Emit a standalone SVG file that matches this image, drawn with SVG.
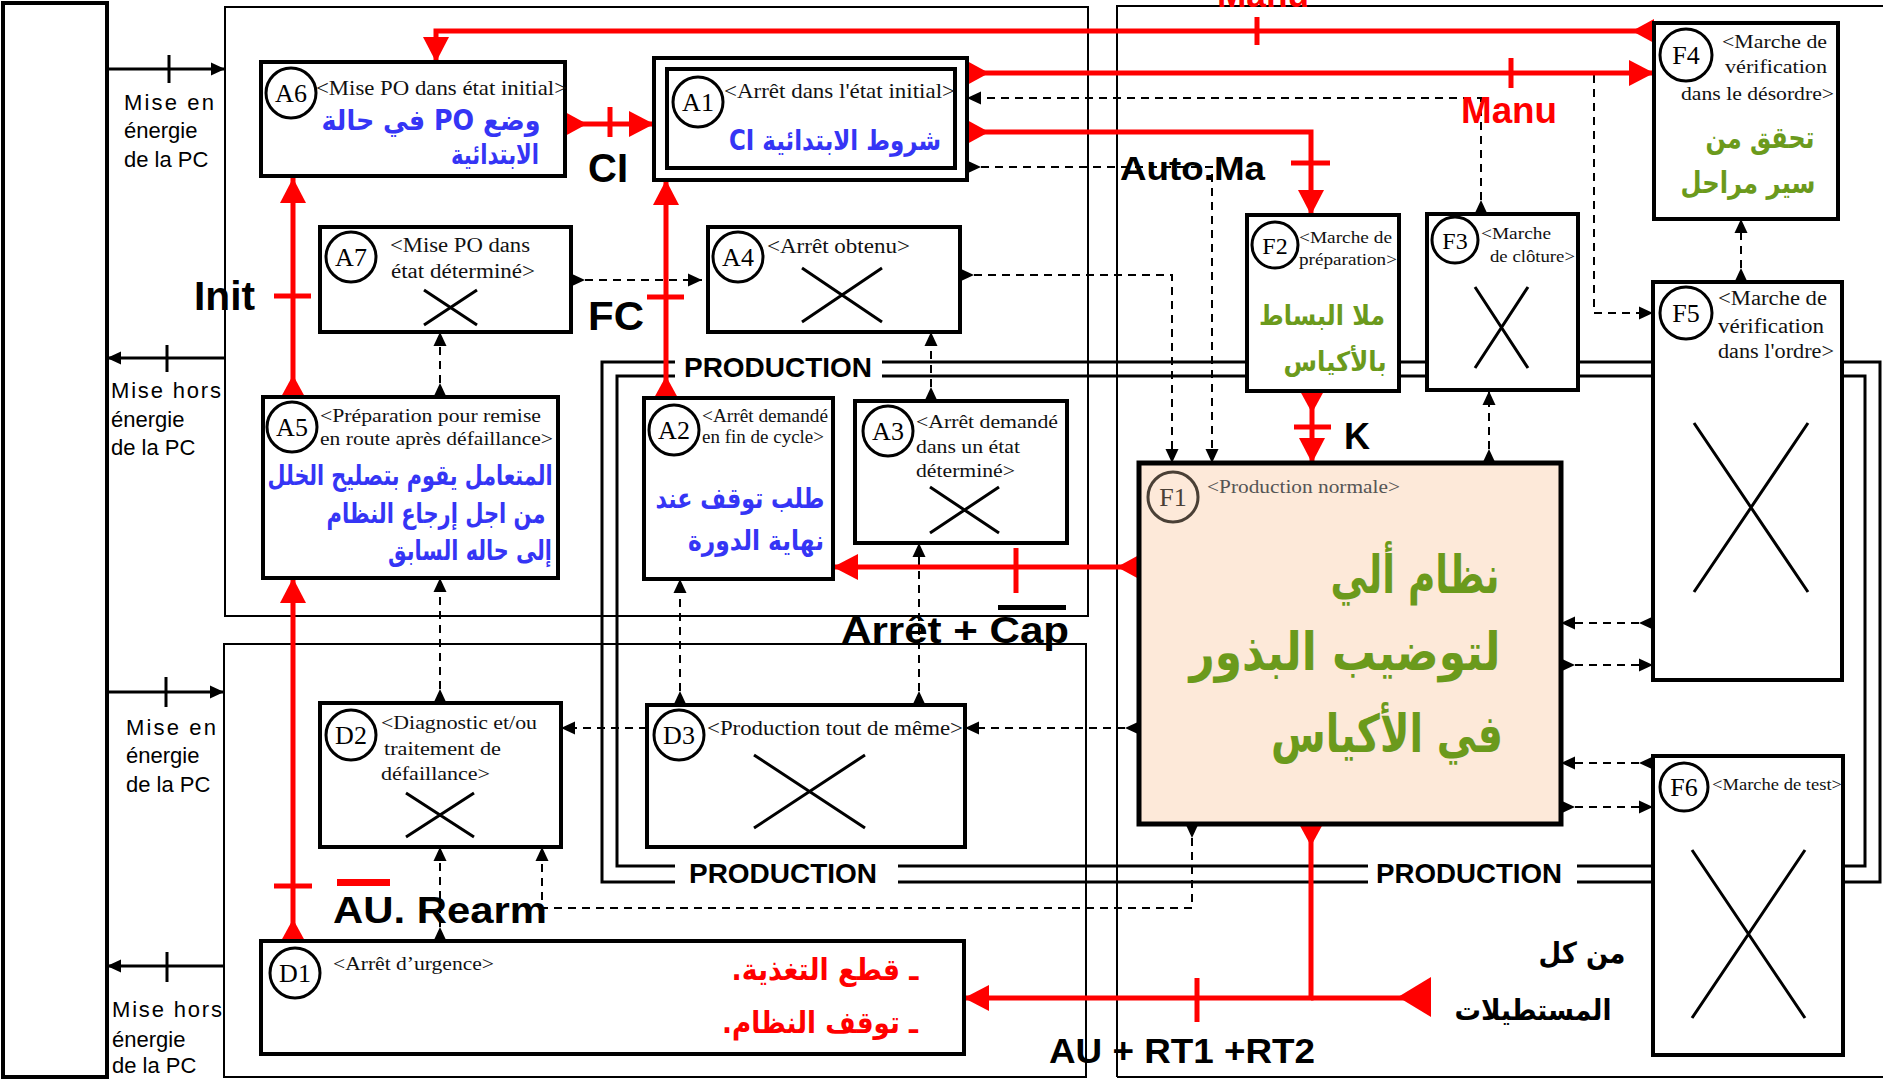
<svg xmlns="http://www.w3.org/2000/svg" width="1883" height="1081" viewBox="0 0 1883 1081">
<style>
.fr{font-family:"Liberation Serif",serif;fill:#111}
.cl{font-family:"Liberation Serif",serif;fill:#000;font-size:26px;text-anchor:middle}
.sans{font-family:"Liberation Sans",Arial,sans-serif;fill:#000;font-size:22px}
.lbl{font-family:"Liberation Sans",Arial,sans-serif;font-weight:bold;fill:#000}
.ar{font-family:"DejaVu Sans",sans-serif;font-weight:bold;direction:rtl;text-anchor:middle}
.blue{fill:#3535f5}
.green{fill:#6b9a1c}
.redt{fill:#ff0000}
.box{fill:#fff;stroke:#000;stroke-width:4}
.circ{fill:#fff;stroke:#000;stroke-width:3}
.frame{fill:none;stroke:#000;stroke-width:2}
.dash{fill:none;stroke:#000;stroke-width:2;stroke-dasharray:8 6}
.red{fill:none;stroke:#ff0000;stroke-width:5}
.solid{fill:none;stroke:#000;stroke-width:3}
.cross{stroke:#000;stroke-width:3}
.prod{fill:none;stroke:#000;stroke-width:3}
</style>
<defs>
<marker id="ah" markerWidth="14" markerHeight="14" refX="14" refY="7" orient="auto" markerUnits="userSpaceOnUse"><path d="M0,0.5 L14,7 L0,13.5z" fill="#000"/></marker>
<marker id="at" markerWidth="14" markerHeight="14" refX="0" refY="7" orient="auto" markerUnits="userSpaceOnUse"><path d="M0,0.5 L14,7 L0,13.5z" fill="#000"/></marker>
<marker id="rh" markerWidth="25" markerHeight="26" refX="25" refY="13" orient="auto" markerUnits="userSpaceOnUse"><path d="M0,0 L25,13 L0,26z" fill="#ff0000"/></marker>
<marker id="rt" markerWidth="22" markerHeight="24" refX="0" refY="12" orient="auto" markerUnits="userSpaceOnUse"><path d="M0,0 L22,12 L0,24z" fill="#ff0000"/></marker>
</defs>
<rect width="1883" height="1081" fill="#fff"/>

<g id="frames">
<rect x="3" y="3" width="104" height="1074" fill="none" stroke="#000" stroke-width="4"/>
<rect class="frame" x="225" y="7" width="863" height="609"/>
<rect class="frame" x="224" y="644" width="862" height="433"/>
<path class="frame" d="M1117,1077 V6 H1890 M1117,1077 H1890"/>
</g>

<g id="power">
<path class="solid" d="M107,69 H225" marker-end="url(#ah)"/>
<path class="solid" d="M169,55 V83"/>
<path class="solid" d="M225,358 H107" marker-end="url(#ah)"/>
<path class="solid" d="M167,345 V372"/>
<path class="solid" d="M107,692 H224" marker-end="url(#ah)"/>
<path class="solid" d="M166,677 V707"/>
<path class="solid" d="M224,966 H107" marker-end="url(#ah)"/>
<path class="solid" d="M167,952 V982"/>
<text class="sans" x="124" y="110" textLength="90" lengthAdjust="spacing">Mise en</text>
<text class="sans" x="124" y="138">énergie</text>
<text class="sans" x="124" y="167">de la PC</text>
<text class="sans" x="111" y="398" textLength="110" lengthAdjust="spacing">Mise hors</text>
<text class="sans" x="111" y="427">énergie</text>
<text class="sans" x="111" y="455">de la PC</text>
<text class="sans" x="126" y="735" textLength="90" lengthAdjust="spacing">Mise en</text>
<text class="sans" x="126" y="763">énergie</text>
<text class="sans" x="126" y="792">de la PC</text>
<text class="sans" x="112" y="1017" textLength="110" lengthAdjust="spacing">Mise hors</text>
<text class="sans" x="112" y="1047">énergie</text>
<text class="sans" x="112" y="1073">de la PC</text>
</g>

<g id="production">
<path class="prod" d="M675,362 H602 V882 H675"/>
<path class="prod" d="M675,376 H617 V866 H675"/>
<path class="prod" d="M882,362 H1880 V882 H1843"/>
<path class="prod" d="M882,376 H1865 V866 H1843"/>
<path class="prod" d="M898,882 H1368 M1577,882 H1653"/>
<path class="prod" d="M898,866 H1368 M1577,866 H1653"/>
<text class="lbl" x="684" y="377" font-size="28" textLength="188" lengthAdjust="spacingAndGlyphs">PRODUCTION</text>
<text class="lbl" x="689" y="883" font-size="28" textLength="188" lengthAdjust="spacingAndGlyphs">PRODUCTION</text>
<text class="lbl" x="1376" y="883" font-size="28" textLength="186" lengthAdjust="spacingAndGlyphs">PRODUCTION</text>
</g>

<g id="connectors">
<path class="dash" d="M571,280 H702" marker-start="url(#at)" marker-end="url(#ah)"/>
<path class="dash" d="M440,397 V332" marker-start="url(#at)" marker-end="url(#ah)"/>
<path class="dash" d="M440,703 V578" marker-start="url(#at)" marker-end="url(#ah)"/>
<path class="dash" d="M440,941 V847" marker-start="url(#at)" marker-end="url(#ah)"/>
<path class="dash" d="M1192,824 V908 H542 V847" marker-start="url(#at)" marker-end="url(#ah)"/>
<path class="dash" d="M647,728 H561" marker-end="url(#ah)"/>
<path class="dash" d="M1139,728 H965" marker-start="url(#at)" marker-end="url(#ah)"/>
<path class="dash" d="M680,705 V579" marker-start="url(#at)" marker-end="url(#ah)"/>
<path class="dash" d="M919,705 V543" marker-start="url(#at)" marker-end="url(#ah)"/>
<path class="dash" d="M931,401 V332" marker-start="url(#at)" marker-end="url(#ah)"/>
<path class="dash" d="M960,275 H1172 V463" marker-start="url(#at)" marker-end="url(#ah)"/>
<path class="dash" d="M967,167 H1212 V463" marker-start="url(#at)" marker-end="url(#ah)"/>
<path class="dash" d="M1481,214 V98 H967" marker-start="url(#at)" marker-end="url(#ah)"/>
<path class="dash" d="M1594,75 V313 H1653" marker-end="url(#ah)"/>
<path class="dash" d="M1741,282 V219" marker-start="url(#at)" marker-end="url(#ah)"/>
<path class="dash" d="M1489,463 V391" marker-start="url(#at)" marker-end="url(#ah)"/>
<path class="dash" d="M1653,623 H1561" marker-start="url(#at)" marker-end="url(#ah)"/>
<path class="dash" d="M1561,665 H1653" marker-start="url(#at)" marker-end="url(#ah)"/>
<path class="dash" d="M1653,763 H1561" marker-start="url(#at)" marker-end="url(#ah)"/>
<path class="dash" d="M1561,807 H1653" marker-start="url(#at)" marker-end="url(#ah)"/>

<path class="red" d="M1654,31 H436 V62" marker-start="url(#rt)" marker-end="url(#rh)"/>
<path class="red" d="M1257,17 V45"/>
<path class="red" d="M967,73 H1654" marker-start="url(#rt)" marker-end="url(#rh)"/>
<path class="red" d="M1511,58 V88"/>
<path class="red" d="M967,132 H1311 V215" marker-start="url(#rt)" marker-end="url(#rh)"/>
<path class="red" d="M1291,163 H1330"/>
<path class="red" d="M565,124 H654" marker-start="url(#rt)" marker-end="url(#rh)"/>
<path class="red" d="M610,107 V137"/>
<path class="red" d="M293,397 V178" marker-start="url(#rt)" marker-end="url(#rh)"/>
<path class="red" d="M274,296 H311"/>
<path class="red" d="M666,398 V180" marker-start="url(#rt)" marker-end="url(#rh)"/>
<path class="red" d="M647,297 H684"/>
<path class="red" d="M293,941 V578" marker-start="url(#rt)" marker-end="url(#rh)"/>
<path class="red" d="M274,886 H312"/>
<path class="red" d="M1139,567 H833" marker-start="url(#rt)" marker-end="url(#rh)"/>
<path class="red" d="M1016,548 V593"/>
<path class="red" d="M1312,391 V463" marker-start="url(#rt)" marker-end="url(#rh)"/>
<path class="red" d="M1294,427 H1331"/>
<path class="red" d="M1311,824 V998 H964" marker-start="url(#rt)" marker-end="url(#rh)"/>
<path class="red" d="M1197,978 V1022"/>
<path class="red" d="M1431,998 H1311"/>
<polygon points="1431,977 1431,1017 1398,997" fill="#ff0000"/>
</g>

<g id="labels">
<text class="lbl" x="588" y="182" font-size="40">CI</text>
<text class="lbl" x="194" y="310" font-size="40" textLength="61" lengthAdjust="spacingAndGlyphs">Init</text>
<text class="lbl" x="588" y="330" font-size="40" textLength="56" lengthAdjust="spacingAndGlyphs">FC</text>
<text class="lbl" x="1120" y="180" font-size="34" textLength="145" lengthAdjust="spacingAndGlyphs">Auto.Ma</text>
<text class="lbl redt" x="1461" y="123" font-size="36" textLength="96" lengthAdjust="spacingAndGlyphs">Manu</text>
<text class="lbl redt" x="1217" y="7" font-size="36" textLength="92" lengthAdjust="spacingAndGlyphs">Manu</text>
<text class="lbl" x="1344" y="449" font-size="36">K</text>
<text class="lbl" x="841" y="643" font-size="37" textLength="228" lengthAdjust="spacingAndGlyphs">Arrêt + Cap</text>
<rect x="998" y="605" width="68" height="5" fill="#000"/>
<text class="lbl" x="333" y="923" font-size="37" textLength="214" lengthAdjust="spacingAndGlyphs">AU. Rearm</text>
<rect x="337" y="879" width="53" height="7" fill="#ff0000"/>
<text class="lbl" x="1049" y="1063" font-size="35" textLength="266" lengthAdjust="spacingAndGlyphs">AU + RT1 +RT2</text>
<text class="ar" x="1582" y="963" font-size="29" fill="#000" textLength="87" lengthAdjust="spacingAndGlyphs">من كل</text>
<text class="ar" x="1533" y="1020" font-size="29" fill="#000" textLength="157" lengthAdjust="spacingAndGlyphs">المستطيلات</text>
</g>

<g id="A6">
<rect class="box" x="261" y="62" width="304" height="114"/>
<circle class="circ" cx="291" cy="93" r="25"/>
<text class="cl" x="291" y="102">A6</text>
<text class="fr" x="316" y="95" font-size="21" textLength="251" lengthAdjust="spacingAndGlyphs">&lt;Mise PO dans état initial&gt;</text>
<text class="ar blue" x="431" y="130" font-size="28" textLength="219" lengthAdjust="spacingAndGlyphs">وضع PO في حالة</text>
<text class="ar blue" x="495" y="164" font-size="28" textLength="88" lengthAdjust="spacingAndGlyphs">الابتدائية</text>
</g>

<g id="A1">
<rect class="box" x="654" y="58" width="313" height="122"/>
<rect class="box" x="667" y="69" width="288" height="99"/>
<circle class="circ" cx="698" cy="102" r="25"/>
<text class="cl" x="698" y="111">A1</text>
<text class="fr" x="724" y="98" font-size="21" textLength="231" lengthAdjust="spacingAndGlyphs">&lt;Arrêt dans l'état initial&gt;</text>
<text class="ar blue" x="835" y="150" font-size="28" textLength="212" lengthAdjust="spacingAndGlyphs">شروط الابتدائية CI</text>
</g>

<g id="A7">
<rect class="box" x="320" y="227" width="251" height="105"/>
<circle class="circ" cx="351" cy="257" r="25"/>
<text class="cl" x="351" y="266">A7</text>
<text class="fr" x="390" y="252" font-size="20" textLength="140" lengthAdjust="spacingAndGlyphs">&lt;Mise PO dans</text>
<text class="fr" x="391" y="278" font-size="20" textLength="144" lengthAdjust="spacingAndGlyphs">état déterminé&gt;</text>
<path class="cross" d="M424,290 L477,325 M477,290 L424,325"/>
</g>

<g id="A4">
<rect class="box" x="708" y="227" width="252" height="105"/>
<circle class="circ" cx="738" cy="257" r="25"/>
<text class="cl" x="738" y="266">A4</text>
<text class="fr" x="767" y="253" font-size="20" textLength="143" lengthAdjust="spacingAndGlyphs">&lt;Arrêt obtenu&gt;</text>
<path class="cross" d="M802,268 L882,322 M882,268 L802,322"/>
</g>

<g id="A5">
<rect class="box" x="263" y="397" width="295" height="181"/>
<circle class="circ" cx="292" cy="427" r="25"/>
<text class="cl" x="292" y="436">A5</text>
<text class="fr" x="320" y="422" font-size="19" textLength="221" lengthAdjust="spacingAndGlyphs">&lt;Préparation pour remise</text>
<text class="fr" x="320" y="445" font-size="19" textLength="233" lengthAdjust="spacingAndGlyphs">en route après défaillance&gt;</text>
<text class="ar blue" x="410" y="485" font-size="28" textLength="285" lengthAdjust="spacingAndGlyphs">المتعامل يقوم بتصليح الخلل</text>
<text class="ar blue" x="436" y="523" font-size="28" textLength="219" lengthAdjust="spacingAndGlyphs">من اجل إرجاع النظام</text>
<text class="ar blue" x="470" y="560" font-size="28" textLength="164" lengthAdjust="spacingAndGlyphs">إلى حاله السابق</text>
</g>

<g id="A2">
<rect class="box" x="644" y="398" width="189" height="181"/>
<circle class="circ" cx="674" cy="430" r="25"/>
<text class="cl" x="674" y="439">A2</text>
<text class="fr" x="702" y="422" font-size="18" textLength="126" lengthAdjust="spacingAndGlyphs">&lt;Arrêt demandé</text>
<text class="fr" x="702" y="443" font-size="18" textLength="122" lengthAdjust="spacingAndGlyphs">en fin de cycle&gt;</text>
<text class="ar blue" x="740" y="508" font-size="28" textLength="169" lengthAdjust="spacingAndGlyphs">طلب توقف عند</text>
<text class="ar blue" x="756" y="550" font-size="28" textLength="136" lengthAdjust="spacingAndGlyphs">نهاية الدورة</text>
</g>

<g id="A3">
<rect class="box" x="855" y="401" width="212" height="142"/>
<circle class="circ" cx="888" cy="431" r="25"/>
<text class="cl" x="888" y="440">A3</text>
<text class="fr" x="916" y="428" font-size="19" textLength="142" lengthAdjust="spacingAndGlyphs">&lt;Arrêt demandé</text>
<text class="fr" x="916" y="453" font-size="19" textLength="104" lengthAdjust="spacingAndGlyphs">dans un état</text>
<text class="fr" x="916" y="477" font-size="19" textLength="99" lengthAdjust="spacingAndGlyphs">déterminé&gt;</text>
<path class="cross" d="M930,487 L999,533 M999,487 L930,533"/>
</g>

<g id="D2">
<rect class="box" x="320" y="703" width="241" height="144"/>
<circle class="circ" cx="351" cy="735" r="25"/>
<text class="cl" x="351" y="744">D2</text>
<text class="fr" x="381" y="729" font-size="19" textLength="156" lengthAdjust="spacingAndGlyphs">&lt;Diagnostic et/ou</text>
<text class="fr" x="384" y="755" font-size="19" textLength="117" lengthAdjust="spacingAndGlyphs">traitement de</text>
<text class="fr" x="381" y="780" font-size="19" textLength="109" lengthAdjust="spacingAndGlyphs">défaillance&gt;</text>
<path class="cross" d="M406,793 L474,837 M474,793 L406,837"/>
</g>

<g id="D3">
<rect class="box" x="647" y="705" width="318" height="142"/>
<circle class="circ" cx="679" cy="735" r="25"/>
<text class="cl" x="679" y="744">D3</text>
<text class="fr" x="707" y="735" font-size="20" textLength="256" lengthAdjust="spacingAndGlyphs">&lt;Production tout de même&gt;</text>
<path class="cross" d="M754,755 L865,828 M865,755 L754,828"/>
</g>

<g id="D1">
<rect class="box" x="261" y="941" width="703" height="113"/>
<circle class="circ" cx="295" cy="973" r="25"/>
<text class="cl" x="295" y="982">D1</text>
<text class="fr" x="333" y="970" font-size="19" textLength="161" lengthAdjust="spacingAndGlyphs">&lt;Arrêt d’urgence&gt;</text>
<text class="ar redt" x="825" y="980" font-size="30" textLength="187" lengthAdjust="spacingAndGlyphs">ـ قطع التغذية.</text>
<text class="ar redt" x="820" y="1033" font-size="30" textLength="196" lengthAdjust="spacingAndGlyphs">ـ توقف النظام.</text>
</g>

<g id="F1">
<rect x="1139" y="463" width="422" height="361" fill="#fde9d9" stroke="#000" stroke-width="5"/>
<circle cx="1173" cy="497" r="25" fill="none" stroke="#4a4036" stroke-width="3"/>
<text class="cl" x="1173" y="506" style="fill:#4a4036">F1</text>
<text class="fr" x="1207" y="493" font-size="19" textLength="193" lengthAdjust="spacingAndGlyphs" style="fill:#555">&lt;Production normale&gt;</text>
<text class="ar green" x="1415" y="593" font-size="52" textLength="169" lengthAdjust="spacingAndGlyphs">نظام ألي</text>
<text class="ar green" x="1345" y="670" font-size="52" textLength="311" lengthAdjust="spacingAndGlyphs">لتوضيب البذور</text>
<text class="ar green" x="1387" y="752" font-size="52" textLength="232" lengthAdjust="spacingAndGlyphs">في الأكياس</text>
</g>

<g id="F2">
<rect class="box" x="1247" y="215" width="152" height="176"/>
<circle class="circ" cx="1275" cy="245" r="23"/>
<text class="cl" x="1275" y="254" style="font-size:24px">F2</text>
<text class="fr" x="1299" y="243" font-size="17" textLength="93" lengthAdjust="spacingAndGlyphs">&lt;Marche de</text>
<text class="fr" x="1299" y="265" font-size="17" textLength="98" lengthAdjust="spacingAndGlyphs">préparation&gt;</text>
<text class="ar green" x="1322" y="325" font-size="27" textLength="126" lengthAdjust="spacingAndGlyphs">ملا البساط</text>
<text class="ar green" x="1335" y="371" font-size="27" textLength="103" lengthAdjust="spacingAndGlyphs">بالأكياس</text>
</g>

<g id="F3">
<rect class="box" x="1427" y="214" width="151" height="176"/>
<circle class="circ" cx="1455" cy="240" r="23"/>
<text class="cl" x="1455" y="249" style="font-size:24px">F3</text>
<text class="fr" x="1481" y="239" font-size="17" textLength="70" lengthAdjust="spacingAndGlyphs">&lt;Marche</text>
<text class="fr" x="1490" y="262" font-size="17" textLength="85" lengthAdjust="spacingAndGlyphs">de clôture&gt;</text>
<path class="cross" d="M1475,287 L1528,368 M1528,287 L1475,368"/>
</g>

<g id="F4">
<rect class="box" x="1654" y="23" width="184" height="196"/>
<circle class="circ" cx="1686" cy="55" r="26"/>
<text class="cl" x="1686" y="64">F4</text>
<text class="fr" x="1722" y="48" font-size="19" textLength="105" lengthAdjust="spacingAndGlyphs">&lt;Marche de</text>
<text class="fr" x="1725" y="73" font-size="19" textLength="102" lengthAdjust="spacingAndGlyphs">vérification</text>
<text class="fr" x="1681" y="100" font-size="19" textLength="153" lengthAdjust="spacingAndGlyphs">dans le désordre&gt;</text>
<text class="ar green" x="1760" y="148" font-size="30" textLength="109" lengthAdjust="spacingAndGlyphs">تحقق من</text>
<text class="ar green" x="1748" y="193" font-size="30" textLength="135" lengthAdjust="spacingAndGlyphs">سير مراحل</text>
</g>

<g id="F5">
<rect class="box" x="1653" y="282" width="189" height="398"/>
<circle class="circ" cx="1686" cy="313" r="26"/>
<text class="cl" x="1686" y="322">F5</text>
<text class="fr" x="1718" y="305" font-size="20" textLength="109" lengthAdjust="spacingAndGlyphs">&lt;Marche de</text>
<text class="fr" x="1718" y="333" font-size="20" textLength="106" lengthAdjust="spacingAndGlyphs">vérification</text>
<text class="fr" x="1718" y="358" font-size="20" textLength="116" lengthAdjust="spacingAndGlyphs">dans l'ordre&gt;</text>
<path class="cross" d="M1694,423 L1808,592 M1808,423 L1694,592"/>
</g>

<g id="F6">
<rect class="box" x="1653" y="756" width="190" height="299"/>
<circle class="circ" cx="1684" cy="787" r="24"/>
<text class="cl" x="1684" y="796">F6</text>
<text class="fr" x="1712" y="790" font-size="16" textLength="130" lengthAdjust="spacingAndGlyphs">&lt;Marche de test&gt;</text>
<path class="cross" d="M1692,850 L1805,1018 M1805,850 L1692,1018"/>
</g>
</svg>
